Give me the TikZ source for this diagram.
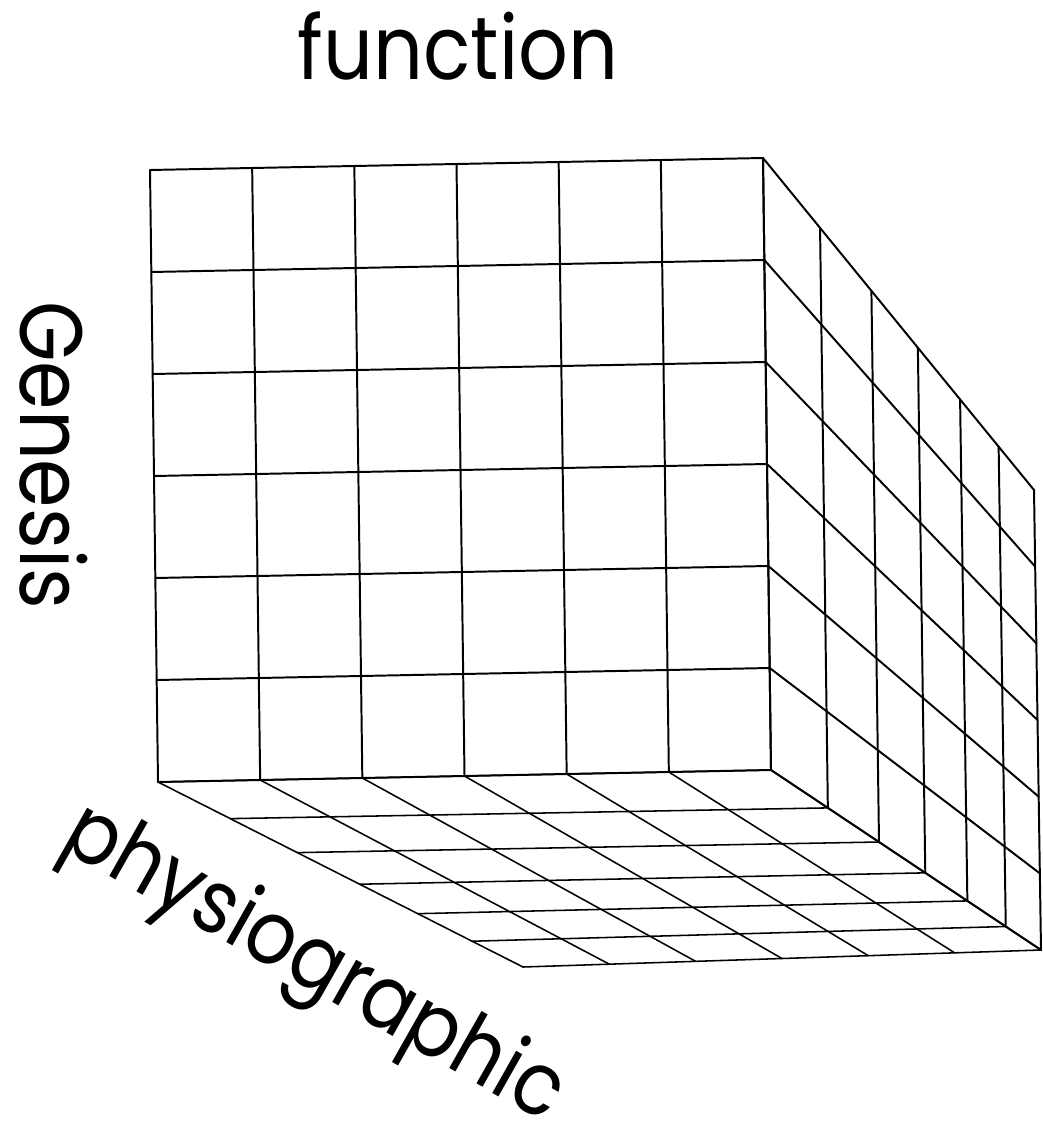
\documentclass[tikz,border=0pt]{standalone}
\usepackage{fontspec}
\newfontfamily\labelfont{Poppins}[FakeStretch=0.88]
\usetikzlibrary{calc}
\begin{document}
\begin{tikzpicture}[
    x=0.025cm, y=-0.025cm,
    grid line/.style={draw=black, line width=1.4pt, line cap=round, line join=round},
    floor line/.style={draw=black, line width=1.1pt, line cap=round},
    axis label/.style={font=\labelfont\fontsize{63}{63}\selectfont, inner sep=0pt, anchor=base}
]
\useasboundingbox (0,0) rectangle (1043,1123);
% corners of the block
\coordinate (ftl) at (150,170);
\coordinate (ftr) at (763,158);
\coordinate (fbl) at (158,782);
\coordinate (fbr) at (771,770);
\coordinate (btr) at (1034,490);
\coordinate (bbr) at (1041,950);
\coordinate (bbl) at (523,967);

% front face
\foreach \i in {0,...,6} {
    \draw[grid line] ($(ftl)!\i/6!(ftr)$) -- ($(fbl)!\i/6!(fbr)$);
    \draw[grid line] ($(ftl)!\i/6!(fbl)$) -- ($(ftr)!\i/6!(fbr)$);
}
% right face, receding
\foreach \i [evaluate=\i as \f using {(\i/6)/((\i/6)+0.75*(1-\i/6))}] in {0,...,6} {
    \draw[grid line] ($(ftr)!\f!(btr)$) -- ($(fbr)!\f!(bbr)$);
    \draw[grid line] ($(ftr)!\i/6!(fbr)$) -- ($(btr)!\i/6!(bbr)$);
}
% floor
\foreach \i [evaluate=\i as \f using {(\i/6)/((\i/6)+0.75*(1-\i/6))},
             evaluate=\i as \g using {(\i/6)/((\i/6)+0.81*(1-\i/6))}] in {0,...,6} {
    \draw[floor line] ($(fbl)!\i/6!(fbr)$) -- ($(bbl)!\i/6!(bbr)$);
    \draw[floor line] ($(fbl)!\g!(bbl)$) -- ($(fbr)!\f!(bbr)$);
}

\node[axis label] (lblfunction) at (458,80) {function};
\node[axis label, rotate=-90] (lblgenesis) at (21,455) {Genesis};
\node[axis label, rotate=-29.5] (lblphysio) at (302,985) {physiographic};
\end{tikzpicture}
\end{document}
